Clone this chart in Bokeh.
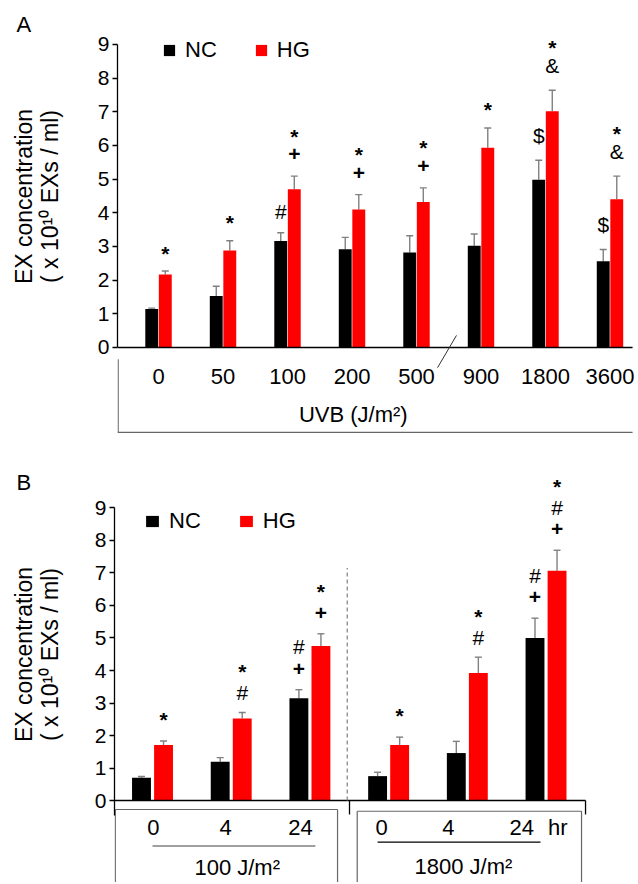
import numpy as np
from bokeh.plotting import figure
from bokeh.models import Range1d, FixedTicker, Legend, LegendItem
from bokeh.layouts import column, row
from bokeh.embed import file_html
from bokeh.resources import INLINE
from bokeh.core.properties import value

FONT = "Liberation Sans"
RED = "#ff0000"
BLACK = "#000000"
GREY = "#808080"
BOXGREY = "#666666"

# ---------------- data: panel A ----------------
uvb_doses = ["0", "50", "100", "200", "500", "900", "1800", "3600"]
nc_a = [1.14, 1.53, 3.16, 2.92, 2.82, 3.02, 4.98, 2.56]
nc_a_err = [0.03, 0.29, 0.25, 0.35, 0.50, 0.35, 0.58, 0.35]
hg_a = [2.17, 2.88, 4.70, 4.10, 4.32, 5.93, 7.02, 4.40]
hg_a_err = [0.10, 0.29, 0.39, 0.44, 0.42, 0.59, 0.62, 0.69]
sig_a_nc = [[], [], ["#"], [], [], [], ["$"], ["$"]]
sig_a_hg = [["*"], ["*"], ["*", "+"], ["*", "+"], ["*", "+"], ["*"], ["*", "&"], ["*", "&"]]

# ---------------- data: panel B ----------------
time_labels = ["0", "4", "24", "0", "4", "24"]
dose_labels = ["100 J/m²", "1800 J/m²"]
nc_b = [0.70, 1.19, 3.15, 0.75, 1.46, 5.00]
nc_b_err = [0.04, 0.13, 0.26, 0.12, 0.36, 0.61]
hg_b = [1.71, 2.52, 4.75, 1.71, 3.92, 7.07]
hg_b_err = [0.12, 0.19, 0.38, 0.24, 0.49, 0.63]
sig_b_nc = [[], [], ["#", "+"], [], [], ["#", "+"]]
sig_b_hg = [["*"], ["*", "#"], ["*", "+"], ["*"], ["*", "#"], ["*", "#", "+"]]

y_ticks = list(range(0, 10))
series_names = ["NC", "HG"]
y_label_lines = ["EX concentration", "( x 10¹⁰ EXs / ml)"]
panel_letters = ["A", "B"]

# ---------------- layout constants ----------------
W = 638
L = 90                      # width of the strip holding panel letter + y title
HA, HB = 445, 437
TOP_B = HA
XR_A = (-0.636, 7.442)
YR_A = (-2.911, 10.306)
XR_B = (-0.483, 6.175)
YR_B = (-2.523, 10.923)
GAP_A = {"*": 19, "+": 22, "#": 21, "$": 25, "&": 25}
GAP_B = {"*": 23, "+": 21, "#": 20}


def side_strip(h, top, letter, letter_mid, label_center):
    s = figure(width=L, height=h, x_range=Range1d(0, L), y_range=Range1d(top + h, top),
               output_backend="svg", toolbar_location=None, x_axis_location=None,
               y_axis_location=None, min_border=0)
    s.outline_line_color = None
    for g in s.grid:
        g.visible = False
    s.text(x=[16], y=[letter_mid], text=[letter], text_align="left",
           text_baseline="middle", text_font=value(FONT), text_font_size="22px",
           text_color=BLACK)
    s.text(x=[23, 49], y=[label_center, label_center], text=y_label_lines,
           angle=np.pi / 2, text_align="center", text_baseline="middle",
           text_font=value(FONT), text_font_size="23px", text_color=BLACK)
    return s


def base_fig(h, left, xr, yr, bounds):
    p = figure(width=W - L, height=h, x_range=Range1d(*xr), y_range=Range1d(*yr),
               output_backend="svg", toolbar_location=None, x_axis_location=None,
               min_border=0, min_border_left=left, min_border_right=0,
               min_border_top=0, min_border_bottom=0)
    p.outline_line_color = None
    for g in p.grid:
        g.visible = False
    ax = p.yaxis[0]
    ax.ticker = FixedTicker(ticks=y_ticks)
    ax.bounds = bounds
    ax.minor_tick_line_color = None
    ax.major_tick_out = 5
    ax.major_tick_in = 0
    ax.major_tick_line_width = 1.3
    ax.axis_line_width = 1.3
    ax.axis_line_color = BLACK
    ax.major_tick_line_color = BLACK
    ax.major_label_text_font = FONT
    ax.major_label_text_font_size = "21px"
    ax.major_label_text_color = BLACK
    ax.major_label_standoff = 3
    return p


def ppu(h, yr):
    return h / (yr[1] - yr[0])


def draw_bars(p, nc, nc_err, hg, hg_err, off, width, cap):
    idx = np.arange(len(nc))
    rs = []
    for vals, errs, sign, col in ((nc, nc_err, -1, BLACK), (hg, hg_err, 1, RED)):
        x = idx + sign * off
        top = np.array(vals)
        up = top + np.array(errs)
        p.segment(x0=x, y0=top, x1=x, y1=up, line_color=GREY, line_width=1.4)
        p.scatter(x=x, y=up, marker="dash", size=cap, line_color=GREY, line_width=1.4)
        rs.append(p.vbar(x=x, top=top, width=width, bottom=0, fill_color=col,
                         line_color=None))
    return rs


def draw_sig(p, nc, nc_err, hg, hg_err, sig_nc, sig_hg, off, k_ppu, gaps, step):
    groups = {"bold": ([], [], []), "normal": ([], [], [])}
    for sign, vals, errs, sigs in ((-1, nc, nc_err, sig_nc), (1, hg, hg_err, sig_hg)):
        for i, (v, e, s) in enumerate(zip(vals, errs, sigs)):
            n = len(s)
            if n == 0:
                continue
            gap = gaps[s[-1]]
            for k, sym in enumerate(s):
                px = gap + (n - 1 - k) * step
                if sym == "*":
                    px -= 1
                key = "bold" if sym in "*+" else "normal"
                xs, ys, ts = groups[key]
                xs.append(i + sign * off)
                ys.append(v + e + px / k_ppu)
                ts.append(sym)
    for style, (xs, ys, ts) in groups.items():
        p.text(x=xs, y=ys, text=ts, text_align="center", text_baseline="middle",
               text_font=value(FONT), text_font_size="21px", text_font_style=style,
               text_color=BLACK)


def add_legend(p, rs, loc, gw, gh):
    leg = Legend(items=[LegendItem(label=series_names[0], renderers=[rs[0]]),
                        LegendItem(label=series_names[1], renderers=[rs[1]])],
                 orientation="horizontal", location=loc, padding=0, margin=0,
                 spacing=37, label_standoff=9, glyph_width=gw, glyph_height=gh,
                 label_height=gh, border_line_color=None, background_fill_alpha=0,
                 label_text_font=FONT, label_text_font_size="22px",
                 label_text_color=BLACK)
    p.add_layout(leg)


def text_row(p, xs, ys, labels, size="22px"):
    p.text(x=xs, y=ys, text=labels, text_align="center", text_baseline="middle",
           text_font=value(FONT), text_font_size=size, text_color=BLACK)


# ================= Panel A =================
sA = side_strip(HA, 0, panel_letters[0], 24, 196)
pA = base_fig(HA, 117 - L, XR_A, YR_A, (0, 9))
kA = ppu(HA, YR_A)
rsA = draw_bars(pA, nc_a, nc_a_err, hg_a, hg_a_err, off=0.105, width=0.2, cap=7)
draw_sig(pA, nc_a, nc_a_err, hg_a, hg_a_err, sig_a_nc, sig_a_hg, 0.105, kA, GAP_A, 19)
pA.segment(x0=[XR_A[0]], y0=[0], x1=[7.35], y1=[0], line_color=BLACK, line_width=1.3)
text_row(pA, list(range(len(uvb_doses))), [-0.86] * len(uvb_doses), uvb_doses)
pA.segment(x0=[4.326], y0=[-0.6], x1=[4.62], y1=[0.36], line_color="#333333", line_width=1)
pA.segment(x0=[XR_A[0] + 0.01, XR_A[0]], y0=[-0.35, -2.52], x1=[XR_A[0] + 0.01, 7.35],
           y1=[-2.52, -2.52], line_color=BOXGREY, line_width=1.2)
text_row(pA, [3.02], [-2.0], ["UVB (J/m²)"])
add_legend(pA, rsA, (45, 382), 14, 14)

# ================= Panel B =================
sB = side_strip(HB, TOP_B, panel_letters[1], 482, 654)
pB = base_fig(HB, 114 - L, XR_B, YR_B, (-0.46, 9))
kB = ppu(HB, YR_B)
rsB = draw_bars(pB, nc_b, nc_b_err, hg_b, hg_b_err, off=0.14, width=0.24, cap=7)
draw_sig(pB, nc_b, nc_b_err, hg_b, hg_b_err, sig_b_nc, sig_b_hg, 0.14, kB, GAP_B, 22)
pB.segment(x0=[XR_B[0]], y0=[0], x1=[5.502], y1=[0], line_color=BLACK, line_width=1.3)
pB.segment(x0=[2.503, 5.502], y0=[0, 0], x1=[2.503, 5.502], y1=[-0.43, -0.43],
           line_color=BLACK, line_width=1.3)
pB.segment(x0=[2.474], y0=[0], x1=[2.474], y1=[7.15], line_color=GREY, line_width=1.2,
           line_dash="4 3")
b1l = XR_B[0] + 0.01
pB.segment(x0=[b1l, b1l, 2.351, 2.601, 2.601, 5.451],
           y0=[-0.277, -0.277, -0.277, -0.33, -0.33, -0.33],
           x1=[b1l, 2.351, 2.351, 2.601, 5.451, 5.451],
           y1=[-3.0, -0.277, -3.0, -3.0, -0.33, -3.0],
           line_color=BOXGREY, line_width=1.2)
time_label_x = [0.01, 0.93, 1.88, 2.91, 3.76, 4.69]
text_row(pB, time_label_x, [-0.83] * len(time_labels), time_labels)
text_row(pB, [5.15], [-0.83], ["hr"])
pB.segment(x0=[0.0], y0=[-1.4], x1=[2.07], y1=[-1.4], line_color=GREY, line_width=1.3)
pB.segment(x0=[2.86], y0=[-1.28], x1=[4.93], y1=[-1.28], line_color=BLACK, line_width=1.3)
text_row(pB, [1.076, 3.95], [-2.06, -2.03], dose_labels)
add_legend(pB, rsB, (30, 348), 16, 14)

layout = column(row(sA, pA, spacing=0), row(sB, pB, spacing=0), spacing=0)
open("out.html", "w").write(file_html(layout, INLINE))
